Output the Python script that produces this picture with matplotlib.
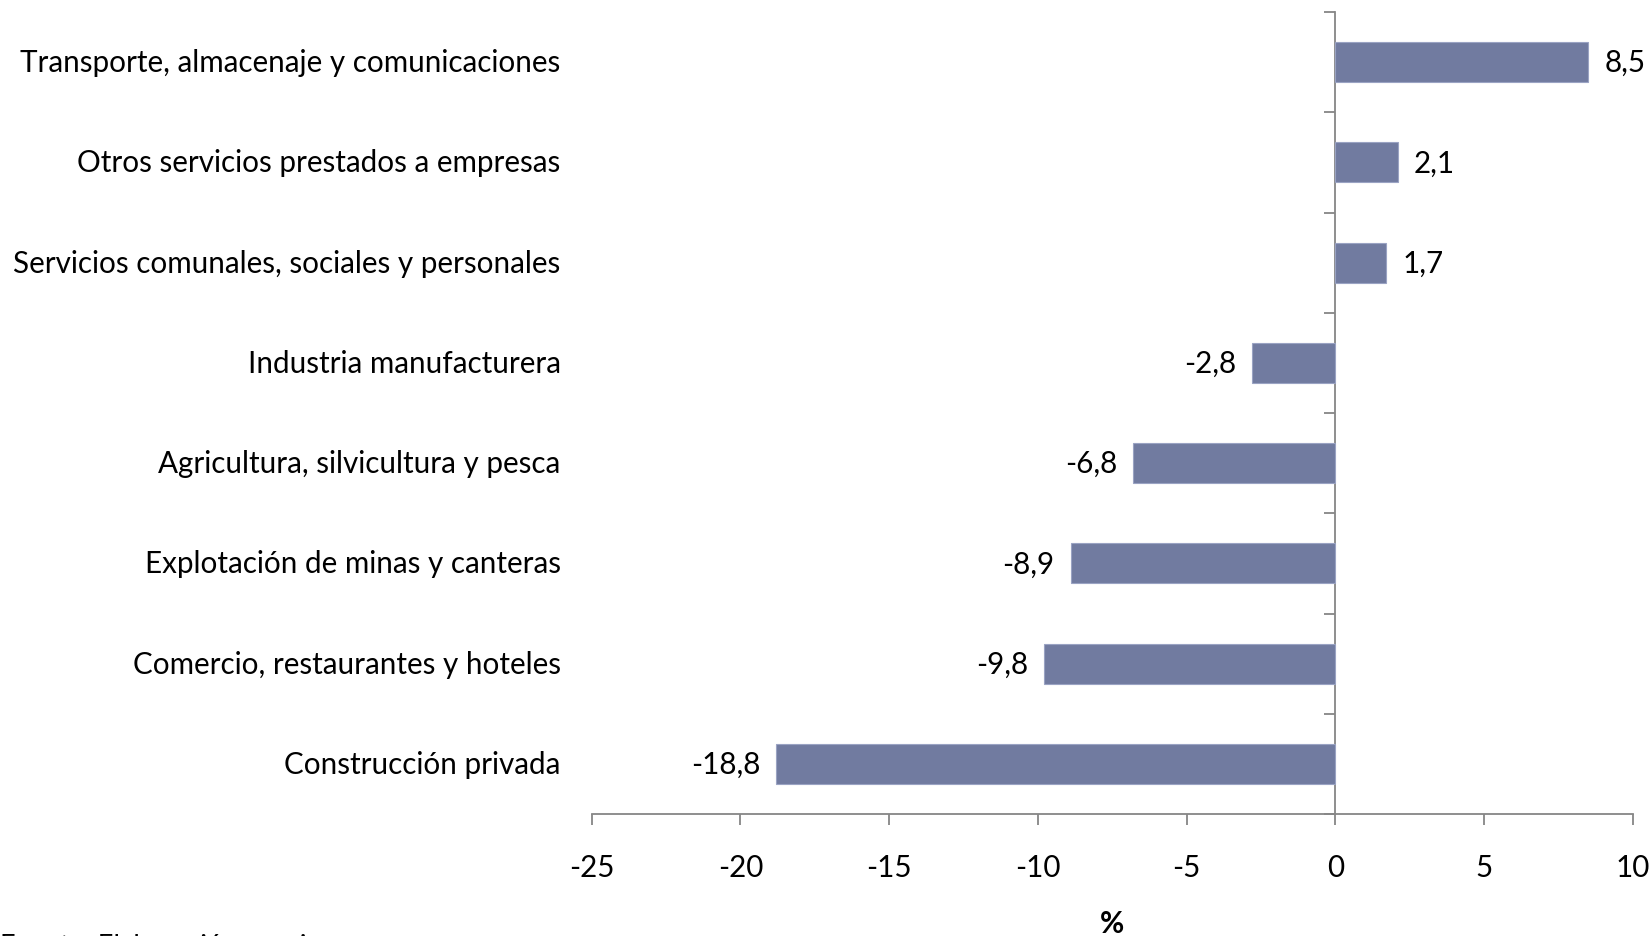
import matplotlib
matplotlib.use("Agg")
import matplotlib.pyplot as plt
import matplotlib.transforms as mtransforms

categories = [
    "Transporte, almacenaje y comunicaciones",
    "Otros servicios prestados a empresas",
    "Servicios comunales, sociales y personales",
    "Industria manufacturera",
    "Agricultura, silvicultura y pesca",
    "Explotación de minas y canteras",
    "Comercio, restaurantes y hoteles",
    "Construcción privada",
]
values = [8.5, 2.1, 1.7, -2.8, -6.8, -8.9, -9.8, -18.8]
xticks = [-25, -20, -15, -10, -5, 0, 5, 10]

plt.rcParams['font.family'] = ['Lato', 'DejaVu Sans']
FS = 21.3
W, H = 1651, 937
fig = plt.figure(figsize=(W / 100, H / 100), dpi=100)
ax = fig.add_axes([591.7 / W, 1 - 815 / H, (1633 - 591.7) / W, (815 - 13) / H])

n = len(categories)
ypos = list(range(n - 1, -1, -1))
ax.barh(ypos, values, height=0.4, color='#717BA0', edgecolor='#9aa3c3', linewidth=0.8, zorder=3)
ax.set_xlim(-25, 10)
ax.set_ylim(-0.5, n - 0.5)

gray = '#868686'
for s in ['top', 'right']:
    ax.spines[s].set_visible(False)
ax.spines['left'].set_position(('data', 0))
ax.spines['left'].set_color(gray)
ax.spines['bottom'].set_color(gray)
ax.spines['left'].set_linewidth(1.3)
ax.spines['bottom'].set_linewidth(1.3)

ax.set_yticks([i - 0.5 for i in range(n + 1)])
ax.set_yticklabels([])
ax.tick_params(axis='y', length=8, width=1.3, color=gray, direction='out')
ax.set_xticks(xticks)
ax.set_xticklabels([str(t) for t in xticks], fontsize=FS)
ax.tick_params(axis='x', length=8, width=1.3, color=gray, direction='out', pad=20)

trans = mtransforms.blended_transform_factory(ax.transAxes, ax.transData)
off = mtransforms.ScaledTranslation(-31 / 100, 0, fig.dpi_scale_trans)
for y, c in zip(ypos, categories):
    ax.text(0, y, c, transform=trans + off, ha='right', va='center', fontsize=FS)

for y, v in zip(ypos, values):
    lab = f"{v:.1f}".replace('.', ',')
    dx = 16 / 100 if v >= 0 else -16 / 100
    o = mtransforms.ScaledTranslation(dx, 0, fig.dpi_scale_trans)
    ax.text(v, y, lab, transform=ax.transData + o, ha='left' if v >= 0 else 'right',
            va='center', fontsize=FS)

ax.set_xlabel('%', fontsize=FS, fontweight='bold', labelpad=20)

fig.text(0, 3 / H, 'Fuente: Elaboración propia', ha='left', va='top', fontsize=19.5)

fig.savefig('out.png', dpi=100)
